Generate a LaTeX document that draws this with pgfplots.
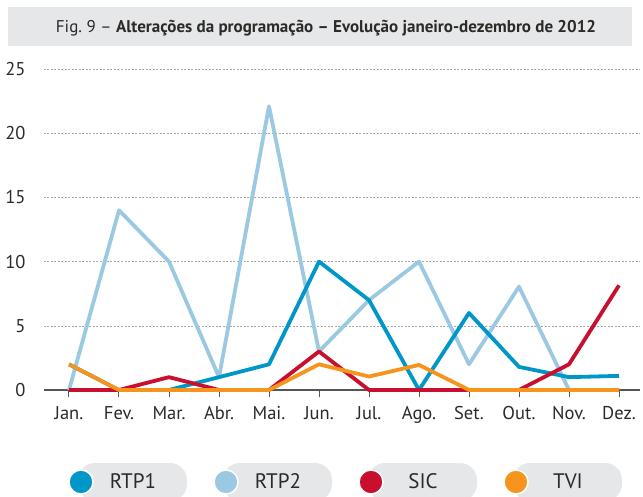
\documentclass[border=0pt]{standalone}
\usepackage{pgfplots}
\pgfplotsset{compat=1.18}
\usepackage{fontspec}
\setmainfont{PT Sans}
\definecolor{rtpone}{HTML}{0096C8}
\definecolor{rtptwo}{HTML}{9CC9E2}
\definecolor{sic}{HTML}{C8102E}
\definecolor{tvi}{HTML}{F7941D}
\definecolor{band}{HTML}{E6E7E8}
\definecolor{txt}{HTML}{2B2A29}
\definecolor{axisgray}{HTML}{555555}
\begin{document}
\begin{tikzpicture}
\useasboundingbox (-44pt,-106pt) rectangle (599pt,390pt);
% title band
\fill[band] (-36pt,344pt) rectangle (588pt,383pt);
\node[anchor=base, text=txt, inner sep=0pt, font=\fontsize{17}{19}\selectfont] at (282pt,357pt) {Fig.~9 -- \textbf{Alterações da programação -- Evolução janeiro-dezembro de 2012}};
\begin{axis}[
  at={(0pt,0pt)}, anchor=south west,
  scale only axis, width=596pt, height=321pt,
  xmin=-0.5, xmax=11.42, ymin=0, ymax=25,
  clip=false,
  axis x line*=bottom, axis y line*=left,
  y axis line style={draw=none},
  x axis line style={color=axisgray, line width=1.2pt},
  xtick={0,...,11},
  xticklabels={Jan.,Fev.,Mar.,Abr.,Mai.,Jun.,Jul.,Ago.,Set.,Out.,Nov.,Dez.},
  ytick={0,5,10,15,20,25},
  tick align=outside,
  major tick length=7pt,
  xtick style={color=axisgray, line width=1pt},
  ytick style={draw=none},
  ymajorgrids,
  grid style={color=gray!70, line width=0.6pt, dash pattern=on 2pt off 1.5pt},
  /pgf/number format/assume math mode=true,
  tick label style={font=\fontsize{18.5}{20}\selectfont, text=txt},
  yticklabel style={anchor=east, xshift=-8pt},
  xticklabel style={yshift=-6pt},
  every axis plot/.append style={line width=3.8pt, line join=round, no markers},
]
\addplot[color=rtptwo] coordinates {(0,0) (1,14) (2,10) (3,1) (4,22.1) (5,3) (6,7) (7,10) (8,2) (9,8.05) (10,0) (11,0)};
\addplot[color=rtpone] coordinates {(0,2) (1,0) (2,0) (3,1) (4,2) (5,10) (6,7) (7,0) (8,6) (9,1.8) (10,1) (11,1.1)};
\addplot[color=sic] coordinates {(0,0) (1,0) (2,1) (3,0) (4,0) (5,3) (6,0) (7,0) (8,0) (9,0) (10,2) (11,8.15)};
\addplot[color=tvi] coordinates {(0,2) (1,0) (2,0) (3,0) (4,0) (5,2) (6,1.05) (7,1.95) (8,0) (9,0) (10,0) (11,0)};
\end{axis}
% legend
\foreach \k/\c/\t in {0/rtpone/RTP1, 1/rtptwo/RTP2, 2/sic/SIC, 3/tvi/TVI}{
  \begin{scope}[xshift=\k*145pt]
  \fill[band, rounded corners=17pt] (34pt,-111pt) rectangle (143pt,-73pt);
  \fill[\c, draw=white, line width=1.5pt] (37pt,-92pt) circle (12pt);
  \node[text=txt, font=\fontsize{21}{23}\selectfont, inner sep=0pt] at (89pt,-91pt) {\t};
  \end{scope}
}
\end{tikzpicture}
\end{document}
